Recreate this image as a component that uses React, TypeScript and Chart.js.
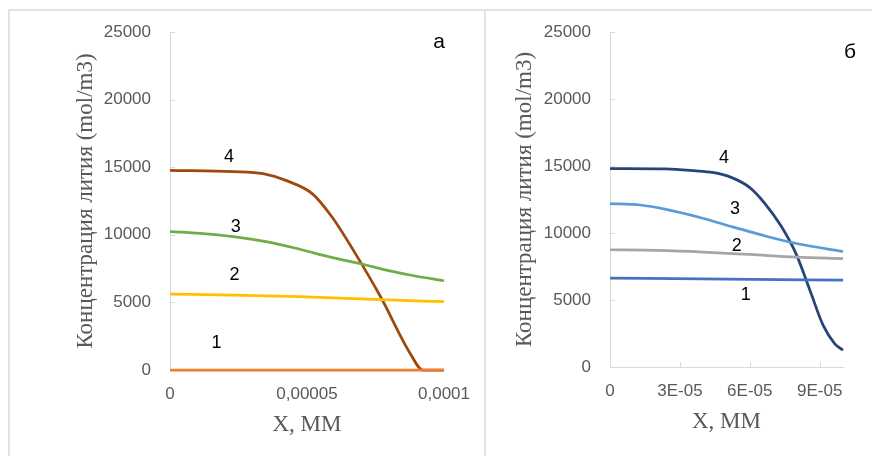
import React, { useEffect, useRef } from "react";
import { Chart, registerables } from "chart.js";

Chart.register(...registerables);

// ---- shared axis data ----
const yMin = 0;
const yMax = 25000;
const yStep = 5000;
const xMin = 0;
const xMax = 0.0001;
const axisTitleX = "X, MM";
const axisTitleY = "Концентрация лития (mol/m3)";

// ---- panel "а" ----
const aXTicks = [0, 0.00005, 0.0001];
const aXTickLabels = ["0", "0,00005", "0,0001"];
const a1X = [0, 0.000025, 0.00005, 0.000075, 0.0001];
const a1Y = [0, 0, 0, 0, 0];
const a2X = [0, 0.000023, 0.000047, 0.000077, 0.0001];
const a2Y = [5610, 5540, 5420, 5200, 5050];
const a3X = [0, 0.000011, 0.000023, 0.000035, 0.000047, 0.000059, 0.00007, 0.000079, 0.000089, 0.0001];
const a3Y = [10240, 10110, 9870, 9500, 8950, 8330, 7840, 7390, 6970, 6600];
const a4X = [0, 0.000023, 0.000034, 0.000043, 0.000052, 0.000059, 0.000067, 0.000077, 0.0000875, 0.0000923, 0.0001];
const a4Y = [14760, 14670, 14520, 13970, 13030, 11350, 8830, 5360, 1280, 0, 0];
const aColors = ["#ED7D31", "#FFC000", "#70AD47", "#9E480E"];
const aLabels = ["1", "2", "3", "4"];
const aLabelX = [0.000017, 0.0000235, 0.000024, 0.0000215];
const aLabelY = [2000, 7050, 10600, 15730];
const aLetter = "а";
const aLetterX = 0.0000982;
const aLetterY = 24260;

// ---- panel "б" ----
const bXTicks = [0, 0.00003, 0.00006, 0.00009];
const bXTickLabels = ["0", "3E-05", "6E-05", "9E-05"];
const b1X = [0, 0.00005, 0.0001];
const b1Y = [6630, 6560, 6480];
const b2X = [0, 0.00002, 0.00004, 0.00006, 0.00008, 0.0001];
const b2Y = [8750, 8700, 8580, 8400, 8200, 8090];
const b3X = [0, 0.000013, 0.000024, 0.000039, 0.000053, 0.000067, 0.000081, 0.0001];
const b3Y = [12200, 12090, 11760, 11140, 10440, 9760, 9180, 8630];
const b4X = [0, 0.000024, 0.000036, 0.000044, 0.000052, 0.00006, 0.0000665, 0.0000735, 0.00008, 0.000086, 0.0000915, 0.0000964, 0.0001];
const b4Y = [14810, 14780, 14650, 14520, 14150, 13390, 12200, 10500, 8390, 5630, 3100, 1750, 1250];
const bColors = ["#4472C4", "#A5A5A5", "#5B9BD5", "#264478"];
const bLabels = ["1", "2", "3", "4"];
const bLabelX = [0.0000583, 0.0000544, 0.0000536, 0.0000489];
const bLabelY = [5400, 9010, 11790, 15620];
const bLetter = "б";
const bLetterX = 0.000103;
const bLetterY = 23500;

const zip = (xs: number[], ys: number[]) => xs.map((x, i) => ({ x, y: ys[i] }));

const annotPlugin = {
  id: "annot",
  afterDatasetsDraw(chart: any, _args: any, opts: any) {
    const { ctx, scales, chartArea } = chart;
    const xs = scales.x;
    const ys = scales.y;
    ctx.save();
    ctx.strokeStyle = "#d9d9d9";
    ctx.lineWidth = 1;
    ys.ticks.forEach((t: any) => {
      if (t.value === 0 && !opts.xInsideTicks) return;
      const py = Math.round(ys.getPixelForValue(t.value)) + 0.5;
      ctx.beginPath();
      ctx.moveTo(chartArea.left, py);
      ctx.lineTo(chartArea.left + 5, py);
      ctx.stroke();
    });
    if (opts.xInsideTicks) {
      xs.ticks.forEach((t: any) => {
        const px = Math.round(xs.getPixelForValue(t.value)) + 0.5;
        ctx.beginPath();
        ctx.moveTo(px, chartArea.bottom);
        ctx.lineTo(px, chartArea.bottom - 5);
        ctx.stroke();
      });
    }
    ctx.fillStyle = "#000";
    ctx.textAlign = "center";
    ctx.textBaseline = "middle";
    ctx.font = "18px 'Liberation Sans', Arial, sans-serif";
    opts.labels.forEach((l: string, i: number) => {
      ctx.fillText(l, xs.getPixelForValue(opts.labelX[i]), ys.getPixelForValue(opts.labelY[i]));
    });
    ctx.font = "21px 'Liberation Sans', Arial, sans-serif";
    ctx.fillText(opts.letter, xs.getPixelForValue(opts.letterX), ys.getPixelForValue(opts.letterY));
    ctx.restore();
  },
};

type PanelProps = {
  left: number;
  top: number;
  width: number;
  height: number;
  series: { x: number[]; y: number[] }[];
  colors: string[];
  xTicks: number[];
  xTickLabels: string[];
  padding: { left: number; right: number; top: number; bottom: number };
  yWidth: number;
  xHeight: number;
  annot: any;
};

function ChartPanel(p: PanelProps) {
  const ref = useRef<HTMLCanvasElement>(null);
  useEffect(() => {
    const tickFont = { family: "'Liberation Sans', Arial, sans-serif", size: 17 };
    const titleFont = { family: "'Liberation Serif', 'Times New Roman', serif", size: 23 };
    const chart = new Chart(ref.current as HTMLCanvasElement, {
      type: "line",
      data: {
        datasets: p.series.map((s, i) => ({
          data: zip(s.x, s.y),
          borderColor: p.colors[i],
          backgroundColor: p.colors[i],
          borderWidth: 2.75,
          pointRadius: 0,
          cubicInterpolationMode: "monotone" as const,
          fill: false,
          clip: 4,
        })),
      },
      options: {
        animation: false,
        responsive: false,
        events: [],
        layout: { padding: p.padding },
        plugins: {
          legend: { display: false },
          tooltip: { enabled: false },
          annot: p.annot,
        } as any,
        scales: {
          x: {
            type: "linear",
            min: xMin,
            max: xMax,
            afterBuildTicks: (scale: any) => {
              scale.ticks = p.xTicks.map((v) => ({ value: v }));
            },
            afterFit: (scale: any) => {
              scale.height = p.xHeight;
            },
            ticks: {
              callback: (_v: any, i: number) => p.xTickLabels[i],
              color: "#595959",
              font: tickFont,
              padding: 14,
              maxRotation: 0,
              autoSkip: false,
            },
            grid: { display: true, drawOnChartArea: false, drawTicks: false },
            border: { display: true, color: "#d9d9d9", width: 1 },
            title: { display: true, text: axisTitleX, color: "#595959", font: titleFont, padding: 0 },
          },
          y: {
            type: "linear",
            min: yMin,
            max: yMax,
            afterFit: (scale: any) => {
              scale.width = p.yWidth;
              scale.paddingTop = 0;
              scale.paddingBottom = 0;
            },
            ticks: {
              stepSize: yStep,
              color: "#595959",
              font: tickFont,
              padding: 19,
              callback: (v: any) => String(v),
            },
            grid: { display: true, drawOnChartArea: false, drawTicks: false },
            border: { display: true, color: "#d9d9d9", width: 1 },
            title: { display: true, text: axisTitleY, color: "#595959", font: titleFont, padding: 0 },
          },
        },
      },
      plugins: [annotPlugin],
    } as any);
    return () => chart.destroy();
  }, []);
  return (
    <canvas
      ref={ref}
      width={p.width}
      height={p.height}
      style={{ position: "absolute", left: p.left, top: p.top, width: p.width, height: p.height }}
    />
  );
}

export default function App() {
  useEffect(() => {
    document.documentElement.style.overflow = "hidden";
    document.body.style.overflow = "hidden";
  }, []);
  const border = "2px solid #e3e3e3";
  return (
    <div style={{ position: "relative", width: 872, height: 448 }}>
      <div
        style={{
          position: "absolute",
          left: 0,
          top: 1,
          width: 478,
          height: 460,
          borderTop: border,
          borderLeft: border,
          borderRight: border,
          boxSizing: "border-box",
        }}
      />
      <div
        style={{
          position: "absolute",
          left: 478,
          top: 1,
          width: 420,
          height: 460,
          borderTop: border,
          boxSizing: "border-box",
        }}
      />
      <ChartPanel
        left={2}
        top={3}
        width={474}
        height={445}
        series={[
          { x: a1X, y: a1Y },
          { x: a2X, y: a2Y },
          { x: a3X, y: a3Y },
          { x: a4X, y: a4Y },
        ]}
        colors={aColors}
        xTicks={aXTicks}
        xTickLabels={aXTickLabels}
        padding={{ left: 62, right: 36, top: 21, bottom: 17 }}
        yWidth={98}
        xHeight={69}
        annot={{
          labels: aLabels,
          labelX: aLabelX,
          labelY: aLabelY,
          letter: aLetter,
          letterX: aLetterX,
          letterY: aLetterY,
          xInsideTicks: false,
        }}
      />
      <ChartPanel
        left={479}
        top={3}
        width={393}
        height={445}
        series={[
          { x: b1X, y: b1Y },
          { x: b2X, y: b2Y },
          { x: b3X, y: b3Y },
          { x: b4X, y: b4Y },
        ]}
        colors={bColors}
        xTicks={bXTicks}
        xTickLabels={bXTickLabels}
        padding={{ left: 24, right: 37, top: 21, bottom: 20 }}
        yWidth={99}
        xHeight={69}
        annot={{
          labels: bLabels,
          labelX: bLabelX,
          labelY: bLabelY,
          letter: bLetter,
          letterX: bLetterX,
          letterY: bLetterY,
          xInsideTicks: true,
        }}
      />
    </div>
  );
}
